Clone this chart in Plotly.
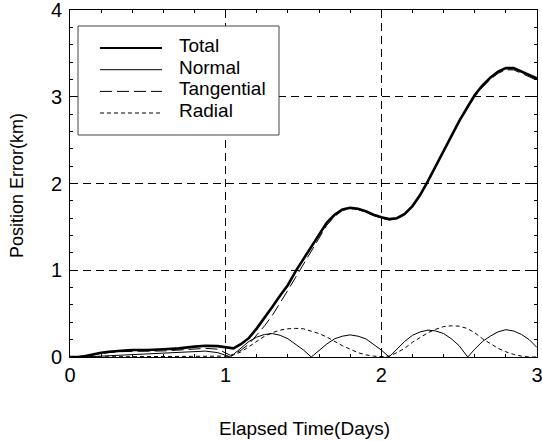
import plotly.graph_objects as go

# ---- data ----
total_t = [0.00, 0.05, 0.10, 0.15, 0.20, 0.25, 0.30, 0.35, 0.40, 0.50, 0.60, 0.70, 0.80, 0.87, 0.95,
           1.00, 1.03, 1.05, 1.10, 1.15, 1.20, 1.25, 1.30, 1.35, 1.40, 1.45, 1.50, 1.55, 1.60, 1.65,
           1.70, 1.75, 1.80, 1.85, 1.90, 1.95, 2.00, 2.05, 2.10, 2.15, 2.20, 2.25, 2.30, 2.35, 2.40,
           2.45, 2.50, 2.55, 2.60, 2.65, 2.70, 2.75, 2.80, 2.85, 2.90, 2.95, 3.00]
total_v = [0.00, 0.00, 0.01, 0.03, 0.05, 0.06, 0.07, 0.075, 0.08, 0.08, 0.09, 0.10, 0.12, 0.13, 0.125,
           0.11, 0.10, 0.10, 0.15, 0.22, 0.33, 0.45, 0.58, 0.71, 0.83, 0.99, 1.13, 1.28, 1.42, 1.55,
           1.64, 1.70, 1.72, 1.71, 1.68, 1.64, 1.61, 1.59, 1.60, 1.65, 1.74, 1.87, 2.03, 2.20, 2.38,
           2.55, 2.72, 2.87, 3.02, 3.13, 3.22, 3.29, 3.33, 3.33, 3.29, 3.25, 3.21]

normal_t = [0.00, 0.10, 0.15, 0.20, 0.30, 0.40, 0.50, 0.60, 0.70, 0.80, 0.87, 0.95, 1.00, 1.03,
            1.05, 1.10, 1.15, 1.20, 1.25, 1.30, 1.35, 1.40, 1.45, 1.50, 1.55,
            1.60, 1.65, 1.70, 1.75, 1.80, 1.85, 1.90, 1.95, 2.00, 2.05,
            2.10, 2.15, 2.20, 2.25, 2.30, 2.35, 2.40, 2.45, 2.50, 2.555,
            2.60, 2.65, 2.70, 2.75, 2.80, 2.85, 2.90, 2.95, 3.00]
normal_v = [0.00, 0.00, 0.005, 0.01, 0.02, 0.03, 0.035, 0.045, 0.055, 0.065, 0.068, 0.05, 0.02, 0.00,
            0.03, 0.11, 0.18, 0.23, 0.26, 0.27, 0.25, 0.21, 0.15, 0.08, 0.00,
            0.08, 0.15, 0.21, 0.24, 0.255, 0.24, 0.21, 0.15, 0.08, 0.00,
            0.09, 0.18, 0.25, 0.29, 0.31, 0.30, 0.27, 0.21, 0.13, 0.00,
            0.09, 0.18, 0.24, 0.29, 0.315, 0.30, 0.26, 0.20, 0.11]

tang_t = [0.00, 0.10, 0.20, 0.30, 0.40, 0.50, 0.60, 0.70, 0.80, 0.87, 0.95, 1.00, 1.03,
          1.05, 1.10, 1.15, 1.20, 1.25, 1.30, 1.35, 1.40, 1.45, 1.50, 1.55, 1.60, 1.65,
          1.70, 1.75, 1.80, 1.85, 1.90, 1.95, 2.00, 2.05, 2.10, 2.15, 2.20, 2.25, 2.30, 2.35, 2.40,
          2.45, 2.50, 2.55, 2.60, 2.65, 2.70, 2.75, 2.80, 2.85, 2.90, 2.95, 3.00]
tang_v = [0.00, 0.01, 0.04, 0.06, 0.065, 0.065, 0.07, 0.08, 0.09, 0.10, 0.09, 0.05, 0.02,
          0.03, 0.08, 0.15, 0.25, 0.36, 0.48, 0.62, 0.77, 0.92, 1.07, 1.23, 1.38, 1.52,
          1.62, 1.69, 1.71, 1.70, 1.67, 1.63, 1.60, 1.58, 1.59, 1.64, 1.73, 1.86, 2.02, 2.19, 2.37,
          2.54, 2.71, 2.86, 3.00, 3.11, 3.20, 3.27, 3.31, 3.31, 3.27, 3.23, 3.19]

radial_t = [0.00, 0.50, 0.80, 1.00, 1.03, 1.10, 1.15, 1.20, 1.25, 1.30, 1.35, 1.40, 1.45, 1.50,
            1.55, 1.60, 1.65, 1.70, 1.75, 1.80, 1.85, 1.90, 1.95, 2.00, 2.05, 2.10, 2.15, 2.20,
            2.25, 2.30, 2.35, 2.40, 2.45, 2.50, 2.55, 2.60, 2.65, 2.70, 2.75, 2.80, 2.85, 2.90,
            2.95, 3.00]
radial_v = [0.00, 0.005, 0.01, 0.01, 0.01, 0.06, 0.12, 0.19, 0.24, 0.28, 0.31, 0.325, 0.33, 0.325,
            0.30, 0.27, 0.23, 0.18, 0.13, 0.09, 0.05, 0.025, 0.01, 0.005, 0.01, 0.05, 0.10, 0.17,
            0.23, 0.28, 0.32, 0.35, 0.36, 0.355, 0.33, 0.28, 0.21, 0.15, 0.10, 0.06, 0.03, 0.01,
            0.00, 0.00]

series_names = ["Total", "Normal", "Tangential", "Radial"]
x_ticks = [0, 1, 2, 3]
y_ticks = [0, 1, 2, 3, 4]

FONT = "Liberation Sans, Arial, sans-serif"

# ---- geometry (pixels) ----
W, H = 542, 441
L, R, T, B = 70, 5, 10, 84
PW, PH = W - L - R, H - T - B


def px(xp):
    return (xp - L) / PW


def py(yp):
    return (H - B - yp) / PH


styles = {
    "Total": dict(color="black", width=2.6, dash="solid"),
    "Normal": dict(color="black", width=1, dash="solid"),
    "Tangential": dict(color="black", width=1, dash="12px,5px"),
    "Radial": dict(color="black", width=1, dash="4px,3px"),
}

fig = go.Figure()
data = {
    "Normal": (normal_t, normal_v),
    "Radial": (radial_t, radial_v),
    "Tangential": (tang_t, tang_v),
    "Total": (total_t, total_v),
}
for name, (xs, ys) in data.items():
    fig.add_trace(go.Scatter(x=xs, y=ys, mode="lines", name=name, line=styles[name],
                             showlegend=False, hoverinfo="skip"))

axis_common = dict(
    showline=True, linecolor="black", linewidth=1, mirror="ticks",
    ticks="inside", ticklen=5, tickcolor="black", tickwidth=1,
    showgrid=True, gridcolor="black", gridwidth=1, griddash="8px,5px",
    zeroline=False, ticklabeloverflow="allow", automargin=False,
    tickfont=dict(family=FONT, size=20, color="black"),
    minor=dict(ticks="inside", ticklen=3, tickcolor="black", showgrid=False),
)

fig.update_xaxes(range=[0, 3], tickvals=x_ticks, ticktext=[str(v) for v in x_ticks],
                 minor_dtick=0.2, **axis_common)
fig.update_yaxes(range=[0, 4], tickvals=y_ticks, ticktext=[str(v) for v in y_ticks],
                 minor_dtick=0.2, ticklabelstandoff=3, **axis_common)

# ---- custom legend ----
shapes = [dict(type="rect", xref="paper", yref="paper",
               x0=px(78), x1=px(279), y0=py(135), y1=py(26),
               line=dict(color="#444444", width=1), fillcolor="white", layer="above")]
annotations = []
row_y = [48, 69.7, 91.4, 113]
for name, ry in zip(series_names, row_y):
    st = styles[name]
    shapes.append(dict(type="line", xref="paper", yref="paper",
                       x0=px(100), x1=px(162), y0=py(ry), y1=py(ry),
                       line=dict(color="black", width=st["width"] if name != "Total" else 2.2,
                                 dash=st["dash"]), layer="above"))
    annotations.append(dict(text=name, xref="paper", yref="paper", x=px(177), y=py(ry - 2.5),
                            xanchor="left", yanchor="middle", showarrow=False,
                            font=dict(family=FONT, size=19, color="black")))

annotations.append(dict(text="Position Error(km)", xref="paper", yref="paper",
                        x=px(17), y=py(186), textangle=-90, xanchor="center", yanchor="middle",
                        showarrow=False, font=dict(family=FONT, size=18, color="black")))
annotations.append(dict(text="Elapsed Time(Days)", xref="paper", yref="paper",
                        x=px(304), y=py(428), xanchor="center", yanchor="middle",
                        showarrow=False, font=dict(family=FONT, size=19, color="black")))

fig.update_layout(
    width=W, height=H,
    margin=dict(l=L, r=R, t=T, b=B, pad=0, autoexpand=False),
    paper_bgcolor="white", plot_bgcolor="white",
    showlegend=False, hovermode=False,
    shapes=shapes, annotations=annotations,
    font=dict(family=FONT, color="black"),
)

fig.write_html("out.html", config={"displayModeBar": False},
               post_script="document.body.style.margin='0';document.body.style.overflow='hidden';")
